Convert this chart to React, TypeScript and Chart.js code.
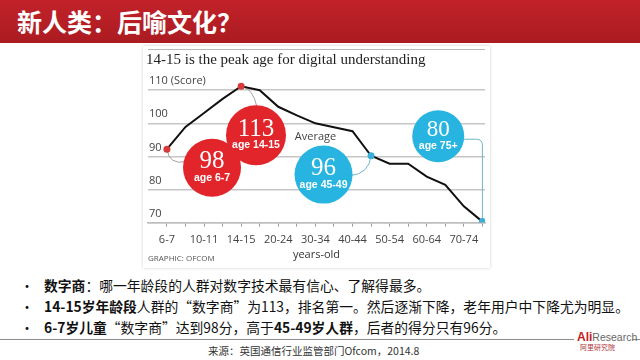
import React, { useEffect, useRef } from "react";
import { Chart, registerables } from "chart.js";

Chart.register(...registerables);

// ---- data ----
const ageGroups = ["6-7", "8-9", "10-11", "12-13", "14-15", "16-19", "20-24", "25-29", "30-34", "35-39", "40-44", "45-49", "50-54", "55-59", "60-64", "65-69", "70-74", "75+"];
const scores = [92.2, 98.9, 103.1, 107.4, 111.2, 110.0, 105.0, 102.4, 100.0, 98.8, 97.6, 90.2, 87.8, 87.8, 83.9, 81.4, 74.9, 70.3];
const yTicks = [70, 80, 90, 100, 110];
const calloutScores = ["113", "98", "96", "80"];
const calloutAges = ["age 14-15", "age 6-7", "age 45-49", "age 75+"];
const calloutTargets = [4, 0, 11, 17];

// ---- layout of the callout circles (chart units) ----
const calloutPlaceX = [4.8, 2.43, 8.44, 14.62];
const calloutPlaceY = [96.4, 86.6, 84.5, 96.1];
const calloutRadius = [30, 29, 29, 26];

const RED = "#e1252b";
const BLUE = "#27b4e0";
const calloutColors = [RED, RED, BLUE, BLUE];

const annotate = {
  id: "annotate",
  beforeDraw(chart: any) {
    const { ctx, chartArea } = chart;
    ctx.save();
    ctx.fillStyle = "#fff";
    ctx.fillRect(0, 0, chart.width, chart.height);
    ctx.strokeStyle = "#b8b8b8";
    ctx.lineWidth = 1;
    ctx.beginPath();
    ctx.moveTo(chartArea.left, 3.5);
    ctx.lineTo(chartArea.right, 3.5);
    ctx.stroke();
    ctx.restore();
  },
  beforeDatasetsDraw(chart: any) {
    const ctx = chart.ctx;
    const pts = chart.getDatasetMeta(0).data;
    const bubbles = chart.getDatasetMeta(1).data;
    ctx.save();
    ctx.lineWidth = 1;
    // 113 -> peak
    let b = bubbles[0], p = pts[calloutTargets[0]], r = calloutRadius[0];
    ctx.strokeStyle = "#a8a0a0";
    ctx.beginPath();
    ctx.moveTo(p.x, p.y);
    ctx.quadraticCurveTo(p.x + 12, p.y + 2, b.x + 1, b.y - r + 2);
    ctx.stroke();
    // 98 -> 6-7
    b = bubbles[1]; p = pts[calloutTargets[1]]; r = calloutRadius[1];
    ctx.beginPath();
    ctx.moveTo(p.x, p.y);
    ctx.quadraticCurveTo(p.x + 2, p.y + 16, b.x - r + 3, b.y - 6);
    ctx.stroke();
    // 96 -> 45-49
    b = bubbles[2]; p = pts[calloutTargets[2]]; r = calloutRadius[2];
    ctx.strokeStyle = "#6fb8cc";
    ctx.beginPath();
    ctx.moveTo(p.x, p.y);
    ctx.quadraticCurveTo(p.x - 2, p.y + 18, b.x + r - 2, b.y + 1);
    ctx.stroke();
    // 80 -> 75+
    b = bubbles[3]; p = pts[calloutTargets[3]]; r = calloutRadius[3];
    ctx.strokeStyle = "#6fb8c4";
    ctx.beginPath();
    ctx.moveTo(b.x + r - 2, b.y + 3);
    ctx.lineTo(p.x - 6, b.y + 3);
    ctx.quadraticCurveTo(p.x, b.y + 3, p.x, b.y + 9);
    ctx.lineTo(p.x, p.y);
    ctx.stroke();
    ctx.restore();
  },
  afterDatasetsDraw(chart: any) {
    const ctx = chart.ctx;
    const bubbles = chart.getDatasetMeta(1).data;
    ctx.save();
    ctx.textAlign = "center";
    ctx.textBaseline = "middle";
    bubbles.forEach((b: any, i: number) => {
      ctx.fillStyle = "#fff";
      ctx.font = `${i === 3 ? 23 : 25}px "Liberation Serif", serif`;
      ctx.fillText(calloutScores[i], b.x, b.y - 6);
      ctx.font = 'bold 10.5px "Liberation Sans Narrow", "Liberation Sans", sans-serif';
      ctx.fillText(calloutAges[i], b.x, b.y + 10);
    });
    const avg = bubbles[2];
    ctx.fillStyle = "#444";
    ctx.font = '11px "Open Sans", sans-serif';
    ctx.fillText("Average", avg.x - 8, avg.y - 38);
    ctx.textAlign = "left";
    ctx.fillStyle = "#555";
    ctx.font = '8px "Open Sans", sans-serif';
    ctx.fillText("GRAPHIC: OFCOM", chart.chartArea.left, chart.height - 9);
    ctx.restore();
  },
};

function ChartPanel() {
  const ref = useRef<HTMLCanvasElement>(null);
  useEffect(() => {
    const chart = new Chart(ref.current as HTMLCanvasElement, {
      type: "line",
      data: {
        datasets: [
          {
            type: "line",
            data: scores.map((v, i) => ({ x: i, y: v })),
            borderColor: "#111",
            borderWidth: 2,
            tension: 0,
            pointRadius: scores.map((_, i) => (calloutTargets.includes(i) ? 3.5 : 0)),
            pointBackgroundColor: scores.map((_, i) => (i === 0 || i === 4 ? "#d63a3a" : "#3aaed8")),
            pointBorderWidth: 0,
            order: 0,
          } as any,
          {
            type: "bubble",
            data: calloutPlaceX.map((x, i) => ({ x, y: calloutPlaceY[i], r: calloutRadius[i] })),
            backgroundColor: calloutColors,
            borderWidth: 0,
            order: 1,
          } as any,
        ],
      },
      options: {
        responsive: false,
        animation: false,
        events: [],
        layout: { autoPadding: false, padding: { left: 3, right: 5, top: 0, bottom: 0 } },
        plugins: {
          legend: { display: false },
          tooltip: { enabled: false },
          title: {
            display: true,
            text: "14-15 is the peak age for digital understanding",
            align: "start",
            color: "#222",
            font: { family: '"Liberation Serif", serif', size: 15, weight: "normal" },
            padding: { top: 5, bottom: 8 },
          },
        },
        scales: {
          x: {
            type: "linear",
            min: -1.02,
            max: 17.14,
            afterBuildTicks: (axis: any) => {
              axis.ticks = ageGroups.map((_, i) => ({ value: i }));
            },
            ticks: {
              autoSkip: false,
              maxRotation: 0,
              color: "#444",
              padding: 7,
              font: { family: '"Open Sans", sans-serif', size: 11 },
              callback: (v: any) => (Number(v) % 2 === 0 ? ageGroups[Number(v)] : ""),
            },
            grid: { drawOnChartArea: false, drawTicks: true, tickLength: 4, color: "#9a9a9a" },
            border: { display: true, color: "#bdbdbd", width: 1.5 },
            title: {
              display: true,
              text: "years-old",
              color: "#333",
              font: { family: '"Open Sans", sans-serif', size: 11 },
              padding: { top: -6, bottom: 7 },
            },
          },
          y: {
            type: "linear",
            min: 70,
            max: 114,
            afterBuildTicks: (axis: any) => {
              axis.ticks = yTicks.map((v) => ({ value: v }));
            },
            ticks: {
              mirror: true,
              padding: 1,
              labelOffset: -9,
              color: "#444",
              font: { family: '"Open Sans", sans-serif', size: 11 },
              callback: (v: any) => (Number(v) === 110 ? "110 (Score)" : String(v)),
            },
            grid: { color: "#c6c6c6", lineWidth: 1.5, drawTicks: false },
            border: { display: false },
          },
        },
      },
      plugins: [annotate],
    } as any);
    return () => chart.destroy();
  }, []);
  return <canvas ref={ref} width={347} height={222} style={{ display: "block", width: 347, height: 222 }} />;
}

export default function App() {
  const bulletStyle: React.CSSProperties = { position: "absolute", left: 20, fontSize: 14, lineHeight: "20px", color: "#111" };
  const lineStyle: React.CSSProperties = { position: "absolute", left: 44, fontSize: 13.8, lineHeight: "20px", color: "#111", whiteSpace: "nowrap" };
  return (
    <div style={{ position: "absolute", left: 0, top: 0, width: 640, height: 360, background: "#fff", overflow: "hidden", fontFamily: '"Noto Sans CJK SC", sans-serif' }}>
      <div style={{ position: "absolute", left: 0, top: 0, width: 640, height: 43, background: "linear-gradient(#c2222a, #ab1b21)" }} />
      <div style={{ position: "absolute", left: 17, top: 6, color: "#fff", fontSize: 25, fontWeight: 700, lineHeight: "30px", letterSpacing: 0 }}>新人类：后喻文化？</div>
      <div style={{ position: "absolute", left: 143, top: 46, width: 347, height: 222, boxShadow: "0 0 3px rgba(0,0,0,0.2)" }}>
        <ChartPanel />
      </div>

      <div style={{ ...bulletStyle, top: 275 }}>•</div>
      <div style={{ ...lineStyle, top: 275 }}><b>数字商</b>：哪一年龄段的人群对数字技术最有信心、了解得最多。</div>
      <div style={{ ...bulletStyle, top: 296 }}>•</div>
      <div style={{ ...lineStyle, top: 296 }}><b>14-15岁年龄段</b>人群的“数字商”为113，排名第一。然后逐渐下降，老年用户中下降尤为明显。</div>
      <div style={{ ...bulletStyle, top: 317 }}>•</div>
      <div style={{ ...lineStyle, top: 317 }}><b>6-7岁儿童</b>“数字商”达到98分，高于<b>45-49岁人群</b>，后者的得分只有96分。</div>

      <div style={{ position: "absolute", left: 0, top: 339, width: 574, height: 1, background: "#8c8c8c" }} />
      <div style={{ position: "absolute", left: 632, top: 339, width: 8, height: 1, background: "#8c8c8c" }} />
      <div style={{ position: "absolute", left: 208, top: 343, fontSize: 10.5, lineHeight: "16px", color: "#333", whiteSpace: "nowrap" }}>来源：英国通信行业监管部门Ofcom，2014.8</div>
      <div style={{ position: "absolute", left: 577, top: 329, lineHeight: "13px", whiteSpace: "nowrap", fontFamily: '"Liberation Sans", sans-serif' }}>
        <span style={{ color: "#c41a24", fontWeight: 700, fontSize: 12 }}>Ali</span>
        <span style={{ color: "#666", fontSize: 10.5 }}>Research</span>
      </div>
      <div style={{ position: "absolute", left: 580, top: 343, fontSize: 7, lineHeight: "9px", color: "#b0353a", whiteSpace: "nowrap" }}>阿里研究院</div>
    </div>
  );
}
